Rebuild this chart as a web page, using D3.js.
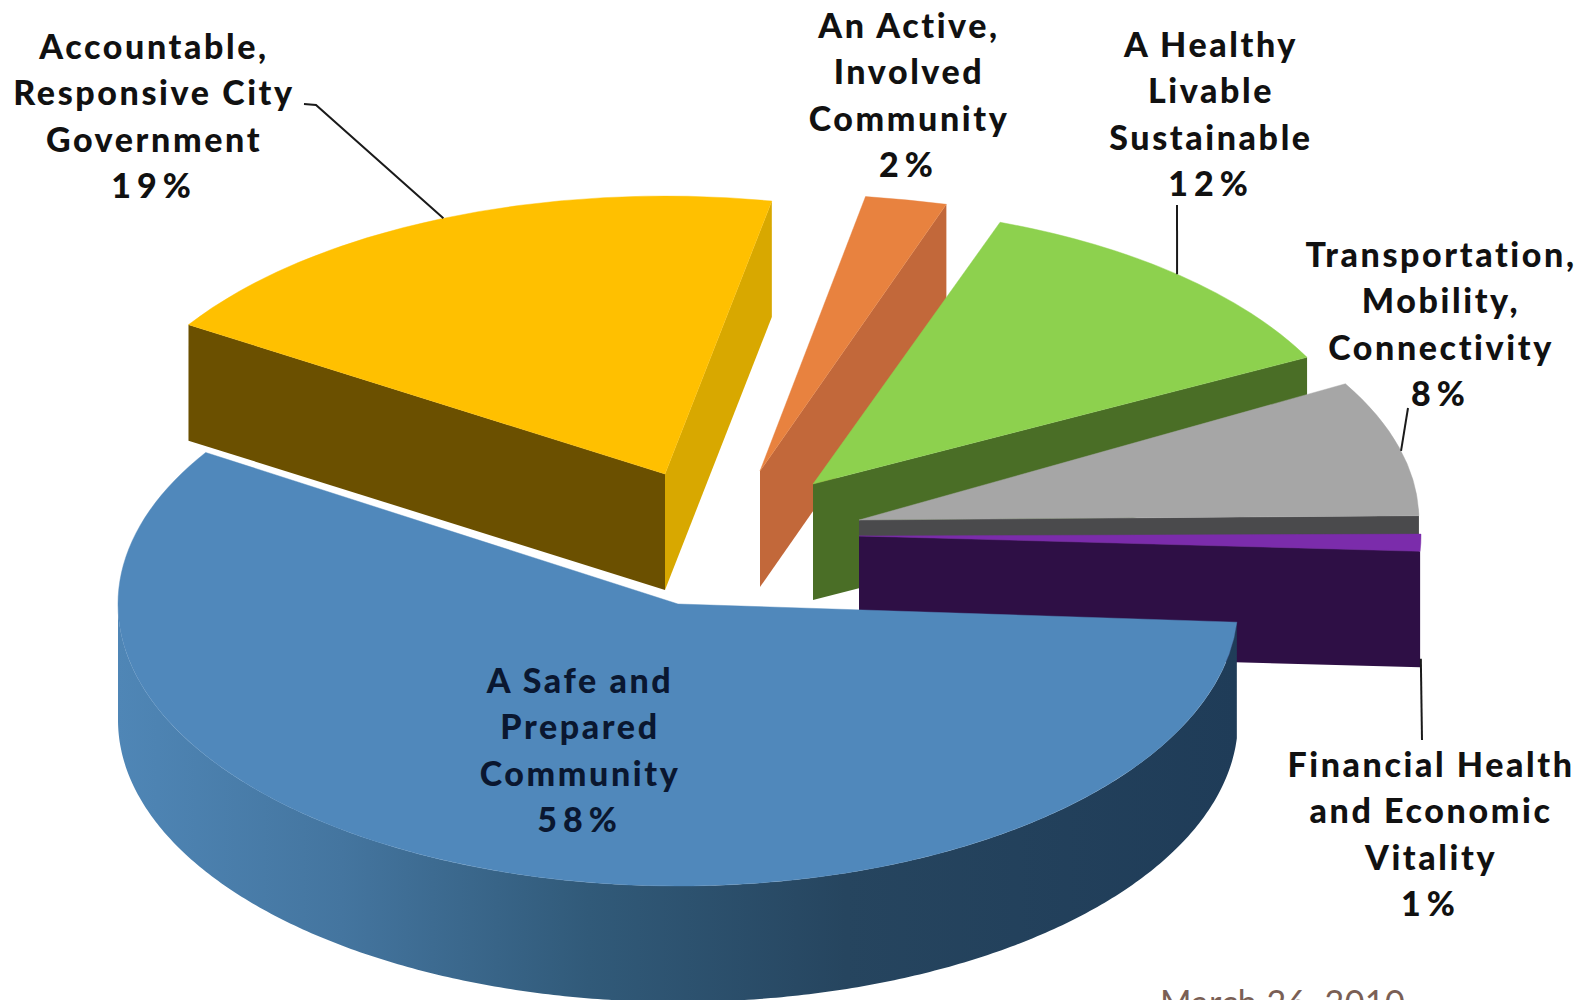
<!DOCTYPE html>
<html>
<head>
<meta charset="utf-8">
<style>
  html, body { margin: 0; padding: 0; background: #fff; overflow: hidden; }
  text { font-family: Lato, "Open Sans", sans-serif; }
</style>
<script src="https://cdn.jsdelivr.net/npm/d3@7"></script>
</head>
<body>
<svg id="chart" width="1588" height="1000"></svg>
<script>
// Survey shares, listed clockwise starting with the largest slice
const categories = [
  ["A Safe and", "Prepared", "Community"],
  ["Accountable,", "Responsive City", "Government"],
  ["An Active,", "Involved", "Community"],
  ["A Healthy", "Livable", "Sustainable"],
  ["Transportation,", "Mobility,", "Connectivity"],
  ["Financial Health", "and Economic", "Vitality"]
];
const values = [58, 19, 2, 12, 8, 1];
const footerDate = "March 26, 2010";

// Slice styling: top face, outer wall, cut faces leading and trailing
const topColors = ["#5088bb", "#ffc000", "#e8823f", "#8dd14e", "#a6a6a6", "#7b2cab"];
const startFaceColors = ["#2f5673", "#6b5000", "#b8602e", "#4a6e26", "#4a4a4c", "#2e0f45"];
const endFaceColors = ["#2f5673", "#d8a800", "#c2683a", "#4a6e26", "#4a4a4c", "#2e0f45"];

// Pie layout: shared centre and depth, per-slice explosion, radii and small rotation
const centerX = 741, centerY = 534, depth = 116;
const explodeX = [-63, -76, 19, 72, 118, 118];
const explodeY = [70, -60, -63, -50, -14, 2];
const radiusX = [560, 565, 660, 555, 560, 562];
const radiusY = [282, 278, 278, 278, 275, 275];
const spinDegrees = [0, 0, -1.7, 1.6, -1, -0.5];
const firstAngle = 93.7;

// Label blocks: centre x and first baseline
const labelX = [580, 154, 909, 1211, 1441, 1431];
const labelY = [693, 59, 38, 57, 267, 777];
const labelLead = 46.4;
const nameSpacing = 2.6;
const percentSpacing = 6;

// Leader lines: slice index, position along its rim, whether it leaves the wall foot, outer end
const leaders = [
  { slice: 1, along: 0.503, foot: false, path: [[316, 105], [304, 104]] },
  { slice: 3, along: 0.493, foot: false, path: [[1177, 205]] },
  { slice: 4, along: 0.526, foot: false, path: [[1408, 408]] },
  { slice: 5, along: 0.5, foot: true, path: [[1422, 740]] }
];

const svg = d3.select("#chart");
const rad = d => d * Math.PI / 180;

const pie = d3.pie().sort(null)
  .startAngle(rad(firstAngle))
  .endAngle(rad(firstAngle + 360));
const slices = pie(values).map((s, i) => ({
  ...s,
  startAngle: s.startAngle + rad(spinDegrees[i]),
  endAngle: s.endAngle + rad(spinDegrees[i])
}));

// Blue wall shading runs from lit on the left to shadow on the right
const defs = svg.append("defs");
const wallGrad = defs.append("linearGradient")
  .attr("id", "wallShade")
  .attr("gradientUnits", "userSpaceOnUse")
  .attr("x1", 118).attr("x2", 1238).attr("y1", 0).attr("y2", 0);
[[0, "#4f86b6"], [0.2, "#44759f"], [0.42, "#315a79"], [0.65, "#26455f"], [1, "#1f3c58"]]
  .forEach(([o, c]) => wallGrad.append("stop").attr("offset", o).attr("stop-color", c));

const line = d3.line();

function rimPoint(i, angle) {
  const ax = centerX + explodeX[i], ay = centerY + explodeY[i];
  return [ax + radiusX[i] * Math.sin(angle), ay - radiusY[i] * Math.cos(angle)];
}
function apex(i) { return [centerX + explodeX[i], centerY + explodeY[i]]; }
const drop = ([x, y]) => [x, y + depth];

// A cut face is a quad hanging down from a radial edge of the top face
function cutFace(i, angle) {
  const a = apex(i), r = rimPoint(i, angle);
  return line([a, r, drop(r), drop(a)]) + "Z";
}

// Outer wall covers the part of the rim that faces the viewer
function outerWall(i, a0, a1) {
  const from = Math.max(a0, rad(90)), to = Math.min(a1, rad(270));
  if (to <= from) return null;
  const rim = d3.range(from, to, 0.01).concat([to]).map(t => rimPoint(i, t));
  return line(rim.concat(rim.slice().reverse().map(drop))) + "Z";
}

// Painter's order: the pie list is rotated so the biggest slice lands on top
const order = [1, 2, 3, 4, 5, 0];
const g = svg.append("g");
order.forEach(i => {
  const s = slices[i];
  const piece = g.append("g").attr("class", "slice");
  // A cut face is visible when its outward normal points toward the viewer
  const startVisible = Math.cos(s.startAngle - Math.PI / 2) < 0;
  const endVisible = Math.cos(s.endAngle + Math.PI / 2) < 0;
  if (startVisible) piece.append("path").attr("d", cutFace(i, s.startAngle)).attr("fill", startFaceColors[i]);
  if (endVisible) piece.append("path").attr("d", cutFace(i, s.endAngle)).attr("fill", endFaceColors[i]);
  const wall = outerWall(i, s.startAngle, s.endAngle);
  if (wall) piece.append("path").attr("d", wall).attr("fill", i === 0 ? "url(#wallShade)" : startFaceColors[i]);
  const arc = d3.arc().innerRadius(0).outerRadius(radiusX[i])
    .startAngle(s.startAngle).endAngle(s.endAngle);
  const [ax, ay] = apex(i);
  piece.append("path")
    .attr("d", arc())
    .attr("transform", `translate(${ax},${ay}) scale(1,${radiusY[i] / radiusX[i]})`)
    .attr("fill", topColors[i])
    .attr("stroke", topColors[i])
    .attr("stroke-width", 0.6);
});

// Leader lines
leaders.forEach(l => {
  const s = slices[l.slice];
  const p = rimPoint(l.slice, s.startAngle + (s.endAngle - s.startAngle) * l.along);
  const start = l.foot ? drop(p) : p;
  svg.append("path")
    .attr("d", line([start].concat(l.path)))
    .attr("fill", "none").attr("stroke", "#1a1a1a").attr("stroke-width", 2);
});

// Category labels with their percentages
categories.forEach((lines, i) => {
  const t = svg.append("text")
    .attr("text-anchor", "middle")
    .attr("font-size", 34)
    .attr("font-weight", 900)
    .attr("fill", i === 0 ? "#0a1730" : "#111");
  lines.forEach((txt, k) => {
    t.append("tspan").attr("x", labelX[i]).attr("y", labelY[i] + k * labelLead)
      .attr("letter-spacing", nameSpacing).text(txt);
  });
  t.append("tspan").attr("x", labelX[i]).attr("y", labelY[i] + lines.length * labelLead)
    .attr("letter-spacing", percentSpacing).text(values[i] + "%");
});

// Slide date, running off the bottom edge
svg.append("text")
  .attr("x", 1160).attr("y", 1015)
  .attr("font-size", 34).attr("letter-spacing", 0.5)
  .attr("fill", "#7a5f55")
  .text(footerDate);
</script>
</body>
</html>
